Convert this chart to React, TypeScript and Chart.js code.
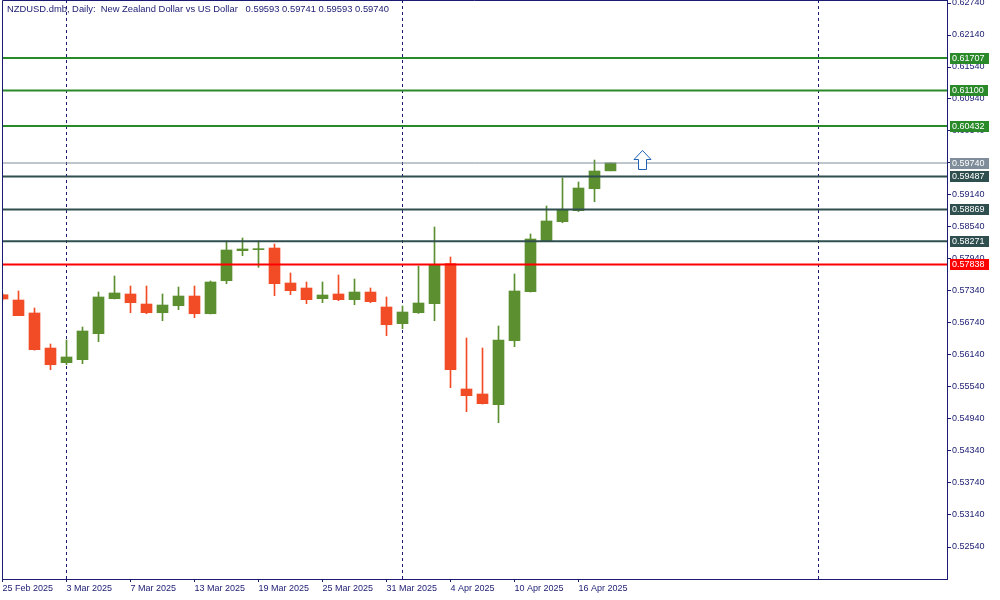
import React, { useEffect, useRef } from 'react';
import { Chart, registerables } from 'chart.js';

Chart.register(...registerables);

// ---------- data ----------
const dates = [
  '25 Feb 2025', '26 Feb 2025', '27 Feb 2025', '28 Feb 2025',
  '3 Mar 2025', '4 Mar 2025', '5 Mar 2025', '6 Mar 2025', '7 Mar 2025',
  '10 Mar 2025', '11 Mar 2025', '12 Mar 2025', '13 Mar 2025', '14 Mar 2025',
  '17 Mar 2025', '18 Mar 2025', '19 Mar 2025', '20 Mar 2025', '21 Mar 2025',
  '24 Mar 2025', '25 Mar 2025', '26 Mar 2025', '27 Mar 2025', '28 Mar 2025',
  '31 Mar 2025', '1 Apr 2025', '2 Apr 2025', '3 Apr 2025', '4 Apr 2025',
  '7 Apr 2025', '8 Apr 2025', '9 Apr 2025', '10 Apr 2025', '11 Apr 2025',
  '14 Apr 2025', '15 Apr 2025', '16 Apr 2025', '17 Apr 2025', '18 Apr 2025',
];

const opens = [
  0.5727, 0.57171, 0.56928, 0.56271,
  0.55996, 0.56052, 0.5654, 0.57196, 0.57284,
  0.57096, 0.56933, 0.57064, 0.57246, 0.56914,
  0.57533, 0.58096, 0.58115, 0.58146, 0.5749,
  0.57396, 0.57196, 0.57284, 0.57177, 0.57321,
  0.5704, 0.56727, 0.56933, 0.57102, 0.57852,
  0.55503, 0.55409, 0.55208, 0.56408, 0.57327,
  0.58283, 0.5864, 0.58846, 0.59258, 0.59593,
];
const highs = [
  0.5729, 0.5734, 0.57021, 0.56346,
  0.56421, 0.56665, 0.57321, 0.57621, 0.57434,
  0.57434, 0.57284, 0.57415, 0.57434, 0.57528,
  0.58278, 0.58334, 0.58278, 0.58221, 0.57678,
  0.57509, 0.57509, 0.5764, 0.57565, 0.57396,
  0.57228, 0.57059, 0.57809, 0.5854, 0.57978,
  0.56459, 0.56271, 0.56684, 0.57659, 0.58409,
  0.58934, 0.59459, 0.59384, 0.59796, 0.59741,
];
const lows = [
  0.5717, 0.56877, 0.5623, 0.55864,
  0.55958, 0.55977, 0.5639, 0.5719, 0.56933,
  0.56914, 0.56783, 0.5699, 0.56839, 0.5691,
  0.57477, 0.58002, 0.57784, 0.57252, 0.57271,
  0.57102, 0.57121, 0.57158, 0.57083, 0.57121,
  0.56502, 0.56633, 0.5692, 0.56783, 0.55527,
  0.55077, 0.5522, 0.54871, 0.56296, 0.5732,
  0.5827, 0.5862, 0.5883, 0.59014, 0.59593,
];
const closes = [
  0.5719, 0.56877, 0.5624, 0.55958,
  0.56103, 0.5659, 0.57228, 0.57303, 0.57121,
  0.56933, 0.57077, 0.57246, 0.56914, 0.57509,
  0.58109, 0.58128, 0.58122, 0.57477, 0.57346,
  0.57177, 0.57265, 0.57177, 0.57321, 0.5714,
  0.56708, 0.56946, 0.57115, 0.57828, 0.55864,
  0.55377, 0.55227, 0.56421, 0.5734, 0.58315,
  0.58653, 0.58864, 0.59271, 0.5959, 0.5974,
];

const xTickLabels = [
  '25 Feb 2025', '3 Mar 2025', '7 Mar 2025', '13 Mar 2025', '19 Mar 2025',
  '25 Mar 2025', '31 Mar 2025', '4 Apr 2025', '10 Apr 2025', '16 Apr 2025',
];
const yTicks = [
  0.6274, 0.6214, 0.6154, 0.6094, 0.6034, 0.5974, 0.5914, 0.5854, 0.5794,
  0.5734, 0.5674, 0.5614, 0.5554, 0.5494, 0.5434, 0.5374, 0.5314, 0.5254,
];

const resistanceLevels = [0.61707, 0.611, 0.60432];
const supportLevels = [0.59487, 0.58869, 0.58271];
const pivotLevels = [0.57838];
const bidLevels = [0.5974];
const separatorIdx = [4, 25, 51];
const arrowSignals = [{ idx: 40, price: 0.59984 }];
const titleText =
  'NZDUSD.dmb, Daily:  New Zealand Dollar vs US Dollar   0.59593 0.59741 0.59593 0.59740';

// ---------- styles / axis extents ----------
const NAVY = '#1b1b72';
const BULL = '#5b8f2f';
const BEAR = '#f24c27';
const GREEN = '#2a8a2a';
const SLATE = '#2f4f4f';
const RED = '#ff0000';
const GRAY = '#7f8c99';
const FONT = '"Liberation Sans", Arial, sans-serif';

const Y_MAX = 0.6279625;
const Y_MIN = 0.5194;
const X_MIN = -0.03125;
const X_MAX = 59.03125;

const levelGroups = [
  { values: resistanceLevels, color: GREEN, width: 2 },
  { values: supportLevels, color: SLATE, width: 2 },
  { values: pivotLevels, color: RED, width: 2 },
  { values: bidLevels, color: GRAY, width: 1 },
];

export default function App() {
  const ref = useRef<HTMLCanvasElement | null>(null);

  useEffect(() => {
    document.body.style.margin = '0';
    const canvas = ref.current;
    if (!canvas) return;

    const bodyColors = opens.map((o, i) => (closes[i] >= o ? BULL : BEAR));

    const levelDatasets: any[] = [];
    levelGroups.forEach((g) => {
      g.values.forEach((v) => {
        levelDatasets.push({
          type: 'line',
          data: [
            { x: X_MIN, y: v },
            { x: X_MAX, y: v },
          ],
          borderColor: g.color,
          borderWidth: g.width,
          pointRadius: 0,
          tension: 0,
          order: 0,
        });
      });
    });

    const decorPlugin = {
      id: 'decor',
      beforeDatasetsDraw(chart: any) {
        const { ctx, chartArea, scales } = chart;
        ctx.save();
        ctx.strokeStyle = NAVY;
        ctx.lineWidth = 1;
        ctx.setLineDash([3, 3]);
        separatorIdx.forEach((i) => {
          const x = Math.round(scales.x.getPixelForValue(i)) - 0.5;
          ctx.beginPath();
          ctx.moveTo(x, chartArea.top);
          ctx.lineTo(x, chartArea.bottom);
          ctx.stroke();
        });
        ctx.restore();
      },
      afterDraw(chart: any) {
        const { ctx, chartArea, scales } = chart;
        ctx.save();
        // frame
        ctx.strokeStyle = NAVY;
        ctx.lineWidth = 1;
        ctx.beginPath();
        ctx.moveTo(chartArea.left + 0.5, chartArea.bottom);
        ctx.lineTo(chartArea.left + 0.5, chartArea.top + 0.5);
        ctx.lineTo(chartArea.right, chartArea.top + 0.5);
        ctx.stroke();

        // title
        ctx.font = `9.4px ${FONT}`;
        ctx.fillStyle = NAVY;
        ctx.textBaseline = 'alphabetic';
        ctx.textAlign = 'left';
        ctx.fillText(titleText, chartArea.left + 5, chartArea.top + 12);

        // level price boxes
        ctx.font = `9px ${FONT}`;
        ctx.textBaseline = 'middle';
        levelGroups.forEach((g) => {
          g.values.forEach((v) => {
            const yc = Math.round(scales.y.getPixelForValue(v));
            const txt = v.toFixed(5);
            const w = Math.ceil(ctx.measureText(txt).width) + 6;
            ctx.fillStyle = g.color;
            ctx.fillRect(chartArea.right + 3, yc - 5, w, 11);
            ctx.fillStyle = '#ffffff';
            ctx.fillText(txt, chartArea.right + 5, yc + 0.5);
          });
        });

        // arrow signals
        arrowSignals.forEach((a) => {
          const x = Math.round(scales.x.getPixelForValue(a.idx)) - 0.5;
          const t = Math.round(scales.y.getPixelForValue(a.price)) + 0.5;
          ctx.beginPath();
          ctx.moveTo(x, t);
          ctx.lineTo(x + 8.5, t + 9);
          ctx.lineTo(x + 4, t + 9);
          ctx.lineTo(x + 4, t + 19);
          ctx.lineTo(x - 4, t + 19);
          ctx.lineTo(x - 4, t + 9);
          ctx.lineTo(x - 8.5, t + 9);
          ctx.closePath();
          ctx.fillStyle = '#ffffff';
          ctx.fill();
          ctx.strokeStyle = '#1f62b5';
          ctx.lineWidth = 1;
          ctx.stroke();
        });
        ctx.restore();
      },
    };

    const chart = new Chart(canvas, {
      type: 'bar',
      data: {
        datasets: [
          {
            type: 'bar',
            data: dates.map((_, i) => ({ x: i, y: [opens[i], closes[i]] })),
            backgroundColor: bodyColors,
            borderWidth: 0,
            barThickness: 11,
            grouped: false,
            minBarLength: 1,
            order: 1,
          } as any,
          {
            type: 'bar',
            data: dates.map((_, i) => ({ x: i, y: [lows[i], highs[i]] })),
            backgroundColor: bodyColors,
            borderWidth: 0,
            barThickness: 1,
            grouped: false,
            order: 2,
          } as any,
          ...levelDatasets,
        ],
      },
      options: {
        animation: false,
        responsive: false,
        devicePixelRatio: 1,
        events: [],
        layout: { padding: { left: 2, top: 0, right: 0, bottom: 0 } },
        plugins: { legend: { display: false }, tooltip: { enabled: false }, title: { display: false } },
        scales: {
          x: {
            type: 'linear',
            min: X_MIN,
            max: X_MAX,
            offset: false,
            afterBuildTicks: (s: any) => {
              s.ticks = xTickLabels.map((l) => ({ value: dates.indexOf(l) }));
            },
            afterFit: (s: any) => {
              s.height = 21;
              s.paddingLeft = 0;
              s.paddingRight = 0;
            },
            ticks: {
              autoSkip: false,
              maxRotation: 0,
              minRotation: 0,
              align: 'start',
              padding: 1,
              color: NAVY,
              font: { family: FONT, size: 9 },
              callback: (v: any) => dates[Math.round(Number(v))] ?? '',
            },
            grid: { drawOnChartArea: false, drawTicks: true, tickLength: 3, tickColor: NAVY, offset: false },
            border: { display: true, color: NAVY },
          },
          y: {
            type: 'linear',
            position: 'right',
            min: Y_MIN,
            max: Y_MAX,
            afterBuildTicks: (s: any) => {
              s.ticks = yTicks.map((v) => ({ value: v }));
            },
            afterFit: (s: any) => {
              s.width = 53;
              s.paddingTop = 0;
              s.paddingBottom = 0;
            },
            ticks: {
              autoSkip: false,
              padding: 1,
              color: NAVY,
              font: { family: FONT, size: 9 },
              callback: (v: any) => Number(v).toFixed(5),
            },
            grid: { drawOnChartArea: false, drawTicks: true, tickLength: 4, tickColor: NAVY },
            border: { display: true, color: NAVY },
          },
        },
      } as any,
      plugins: [decorPlugin],
    });

    return () => chart.destroy();
  }, []);

  return (
    <div style={{ position: 'absolute', left: 0, top: 0, width: 1000, height: 600, background: '#ffffff' }}>
      <canvas ref={ref} width={1000} height={600} style={{ width: 1000, height: 600, display: 'block' }} />
    </div>
  );
}
